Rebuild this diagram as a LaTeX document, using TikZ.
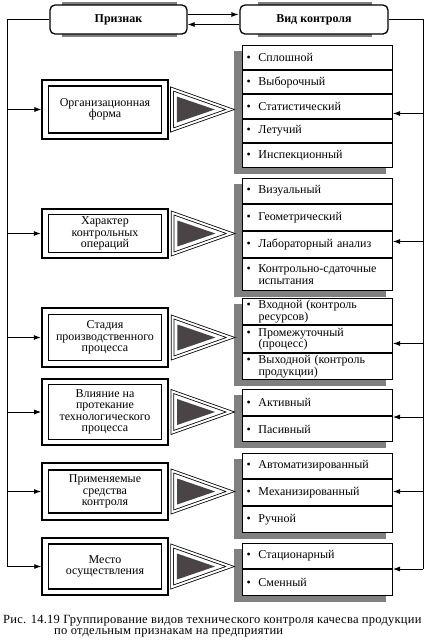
\documentclass[tikz,border=0pt]{standalone}
\usepackage{fontspec}
\setmainfont{Liberation Serif}
\usetikzlibrary{positioning,arrows.meta,shapes.geometric,backgrounds,calc}

\definecolor{shadowgray}{HTML}{808080}
\definecolor{wedgedark}{HTML}{4A4446}
\newcommand{\itm}{\makebox[12pt][l]{•}}

\begin{document}
\begin{tikzpicture}[x=1pt, y=-1pt,
  font=\fontsize{12}{11.5}\selectfont,
  head/.style={draw, line width=1.3pt, rounded corners=5pt, fill=white,
    minimum height=29pt, font=\fontsize{12}{12}\selectfont\bfseries},
  critout/.style={draw, minimum width=126pt, inner sep=0pt},
  critin/.style={draw, line width=1.2pt, minimum width=113pt, align=center, inner sep=0pt},
  wedge/.style={isosceles triangle, isosceles triangle stretches, draw, line width=0.8pt,
    double, double distance=2pt, minimum width=41pt, minimum height=58pt, inner sep=0pt, anchor=west},
  core/.style={isosceles triangle, isosceles triangle stretches, fill=wedgedark,
    minimum width=26pt, minimum height=38pt, inner sep=0pt, anchor=west},
  item/.style={draw, line width=1pt, fill=white, text width=142pt, inner xsep=4pt,
    inner ysep=0pt, align=left, anchor=north west},
  bus/.style={line width=0.8pt},
  feed/.style={line width=0.8pt, -{Latex[length=7pt,width=5pt]}}]
\useasboundingbox (0,0) rectangle (436,641);

% header
\fill[shadowgray] (62,2) rectangle (177,37);
\fill[shadowgray] (258,2) rectangle (372,37);
\node[head, minimum width=137pt] (sign) at (118.5,19.5) {Признак};
\node[head, minimum width=148pt] (kind) at (314,19.5) {Вид контроля};
\draw[line width=1.6pt, -{Latex[length=8pt,width=5pt]}] ([yshift=5pt]sign.east) -- ([yshift=5pt]sign.east -| kind.west);
\draw[line width=0.8pt, -{Latex[length=7pt,width=5pt]}] ([yshift=-5pt]kind.west) -- ([yshift=-5pt]kind.west -| sign.east);

% organisational form
\node[critout, line width=1.2pt, minimum height=59pt] (c1) at (105,109.5) {};
\node[critin, minimum height=47pt] (c1in) at (c1) {Организационная\\форма};
\node[wedge] (w1) at ([xshift=3pt]c1.east) {};
\node[core] (d1) at ([xshift=8pt]c1.east) {};
\node[item, minimum height=24pt] (k1a) at (242,45) {\itm Сплошной};
\node[item, minimum height=23pt, below=0pt of k1a] (k1b) {\itm Выборочный};
\node[item, minimum height=24pt, below=0pt of k1b] (k1c) {\itm Статистический};
\node[item, minimum height=23pt, below=0pt of k1c] (k1d) {\itm Летучий};
\node[item, minimum height=24pt, below=0pt of k1d] (k1e) {\itm Инспекционный};

% control operations
\node[critout, line width=2.5pt, minimum height=49pt] (c2) at (105,233.5) {};
\node[critin, minimum height=38pt] (c2in) at (c2) {Характер\\контрольных\\операций};
\node[wedge] (w2) at ([xshift=3pt]c2.east) {};
\node[core] (d2) at ([xshift=8pt]c2.east) {};
\node[item, minimum height=25pt] (k2a) at (242,178) {\itm Визуальный};
\node[item, minimum height=26pt, below=0pt of k2a] (k2b) {\itm Геометрический};
\node[item, minimum height=26pt, below=0pt of k2b] (k2c) {\itm Лабораторный анализ};
\node[item, minimum height=32pt, below=0pt of k2c] (k2d) {\itm Контрольно-сдаточные\\\hspace*{12pt}испытания};

% production stage
\node[critout, line width=2.5pt, minimum height=59pt] (c3) at (105,337.5) {};
\node[critin, minimum height=46pt] (c3in) at (c3) {Стадия\\производственного\\процесса};
\node[wedge] (w3) at ([xshift=3pt]c3.east) {};
\node[core] (d3) at ([xshift=8pt]c3.east) {};
\node[item, minimum height=26pt] (k3a) at (242,298) {\itm Входной (контроль\\\hspace*{12pt}ресурсов)};
\node[item, minimum height=27pt, below=0pt of k3a] (k3b) {\itm Промежуточный\\\hspace*{12pt}(процесс)};
\node[item, minimum height=26pt, below=0pt of k3b] (k3c) {\itm Выходной (контроль\\\hspace*{12pt}продукции)};

% influence on process
\node[critout, line width=1.8pt, minimum height=66pt] (c4) at (105,412) {};
\node[critin, minimum height=55pt] (c4in) at (c4) {Влияние на\\протекание\\технологического\\процесса};
\node[wedge] (w4) at ([xshift=3pt]c4.east) {};
\node[core] (d4) at ([xshift=8pt]c4.east) {};
\node[item, minimum height=26pt] (k4a) at (242,389) {\itm Активный};
\node[item, minimum height=25pt, below=0pt of k4a] (k4b) {\itm Пасивный};

% means of control
\node[critout, line width=2pt, minimum height=57pt] (c5) at (105,491.5) {};
\node[critin, minimum height=43pt] (c5in) at (c5) {Применяемые\\средства\\контроля};
\node[wedge] (w5) at ([xshift=3pt]c5.east) {};
\node[core] (d5) at ([xshift=8pt]c5.east) {};
\node[item, minimum height=25pt] (k5a) at (242,453) {\itm Автоматизированный};
\node[item, minimum height=26pt, below=0pt of k5a] (k5b) {\itm Механизированный};
\node[item, minimum height=26pt, below=0pt of k5b] (k5c) {\itm Ручной};

% place
\node[critout, line width=1.5pt, minimum height=57pt] (c6) at (105,566.5) {};
\node[critin, minimum height=45pt] (c6in) at (c6) {Место\\осуществления};
\node[wedge] (w6) at ([xshift=3pt]c6.east) {};
\node[core] (d6) at ([xshift=8pt]c6.east) {};
\node[item, minimum height=25pt] (k6a) at (242,543) {\itm Стационарный};
\node[item, minimum height=26pt, below=0pt of k6a] (k6b) {\itm Сменный};

% shadows of the lists
\begin{scope}[on background layer]
  \fill[shadowgray] ($(k1a.north west)+(-8,6)$) rectangle ($(k1e.south east)+(-7,6)$);
  \fill[shadowgray] ($(k2a.north west)+(-8,6)$) rectangle ($(k2d.south east)+(-7,6)$);
  \fill[shadowgray] ($(k3a.north west)+(-8,6)$) rectangle ($(k3c.south east)+(-7,6)$);
  \fill[shadowgray] ($(k4a.north west)+(-8,6)$) rectangle ($(k4b.south east)+(-7,6)$);
  \fill[shadowgray] ($(k5a.north west)+(-8,6)$) rectangle ($(k5c.south east)+(-7,6)$);
  \fill[shadowgray] ($(k6a.north west)+(-8,6)$) rectangle ($(k6b.south east)+(-7,6)$);
\end{scope}

% buses
\coordinate (lbus) at (7,19.5);
\coordinate (rbus) at (423,19.5);
\draw[bus] (sign.west) -- (lbus) -- (lbus |- c6.west);
\draw[bus] (kind.east) -- (rbus) -- (rbus |- k6a.south east);
\foreach \n in {1,...,6}
  \draw[feed] (lbus |- c\n.west) -- (c\n.west);
\draw[feed] ([yshift=-4pt]rbus |- c1.east) -- ([yshift=-4pt]k1a.east |- c1.east);
\draw[feed] ([yshift=-8pt]rbus |- c2.east) -- ([yshift=-8pt]k2a.east |- c2.east);
\draw[feed] ([yshift=-6pt]rbus |- c3.east) -- ([yshift=-6pt]k3a.east |- c3.east);
\draw[feed] ([yshift=-5pt]rbus |- c4.east) -- ([yshift=-5pt]k4a.east |- c4.east);
\draw[feed] (rbus |- c5.east) -- (k5a.east |- c5.east);
\draw[feed] (rbus |- k6a.south east) -- (k6a.south east);

% caption
\node[anchor=north west, inner sep=0pt, align=left,
  font=\fontsize{12.5}{11}\selectfont\addfontfeatures{LetterSpace=2}] (cap) at (3,615)
  {Рис. 14.19 Группирование видов технического контроля качесва продукции\\
   \hspace*{51pt}по отдельным признакам на предприятии};
\end{tikzpicture}
\end{document}
